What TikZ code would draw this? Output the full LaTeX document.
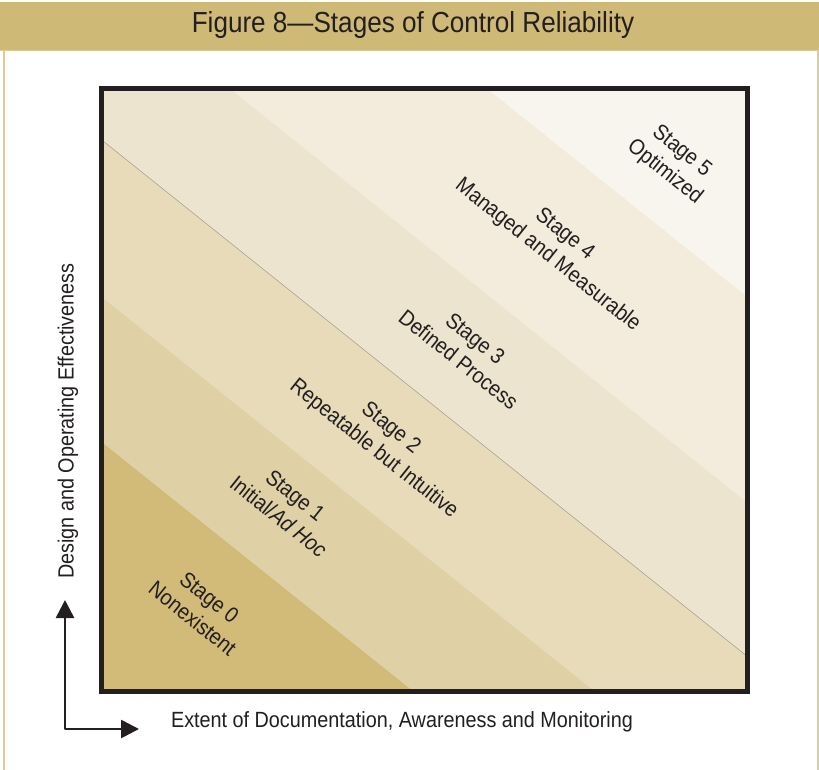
\documentclass[tikz,border=0pt]{standalone}
\usepackage{fontspec}
\setmainfont[FakeStretch=0.9]{Liberation Sans}
\usetikzlibrary{arrows.meta}
\definecolor{gold}{RGB}{207,185,119}
\definecolor{goldline}{RGB}{222,204,152}
\definecolor{sz}{RGB}{210,186,120}
\definecolor{so}{RGB}{224,208,165}
\definecolor{stw}{RGB}{232,219,186}
\definecolor{sth}{RGB}{237,228,207}
\definecolor{sf}{RGB}{243,235,220}
\definecolor{sfi}{RGB}{248,244,238}
\definecolor{ink}{RGB}{35,31,32}
\definecolor{thinline}{RGB}{150,144,128}
\tikzset{
  stagelabel/.style={align=center, rotate=-38.66, inner sep=0pt, text=ink,
    font=\fontsize{22}{27}\selectfont},
  axislabel/.style={inner sep=0pt, text=ink, font=\fontsize{22}{26}\selectfont},
  axisarrow/.style={line width=2.7pt, draw=ink, line join=round,
    {Triangle[length=18pt,width=18pt]}-{Triangle[length=18pt,width=18pt]}}
}
\begin{document}
\begin{tikzpicture}[x=1pt,y=-1pt]
\useasboundingbox (0,0) rectangle (819,769);
\fill[white] (0,0) rectangle (819,769);
% outer frame and header
\draw[goldline, line width=1.2pt] (4,50) -- (4,772) (818,50) -- (818,772);
\fill[gold] (0,2) rectangle (819,50);
\draw[goldline, line width=1pt] (0,50) -- (819,50);
\node[inner sep=0pt, text=ink, font=\fontsize{29}{32}\selectfont] (title) at (413,25) {Figure 8—Stages of Control Reliability};
% bands
\begin{scope}
\clip (101.5,88) rectangle (747,691.5);
\fill[sz] (90,80) rectangle (760,700);
\fill[so]  (0,360.6) -- (1000,1160.6) -- (1000,-1000) -- (0,-1000) -- cycle;
\fill[stw] (0,215.6) -- (1000,1015.6) -- (1000,-1000) -- (0,-1000) -- cycle;
\fill[sth] (0,58.6) -- (1000,858.6) -- (1000,-1000) -- (0,-1000) -- cycle;
\fill[sf]  (0,-95.4) -- (1000,704.6) -- (1000,-1000) -- (0,-1000) -- cycle;
\fill[sfi] (0,-301) -- (1000,499) -- (1000,-1000) -- (0,-1000) -- cycle;
\draw[thinline, line width=0.45pt] (0,58.6) -- (1000,858.6);
\end{scope}
\draw[ink, line width=5pt] (101.5,88) rectangle (747,691.5);
% stage labels
\node[stagelabel] (s0) at (201,608) {Stage 0\\Nonexistent};
\node[stagelabel] (s1) at (287,506) {Stage 1\\Initial/\textit{Ad Hoc}};
\node[stagelabel] (s2) at (382,439) {Stage 2\\Repeatable but Intuitive};
\node[stagelabel] (s3) at (467,349) {Stage 3\\Defined Process};
\node[stagelabel] (s4) at (556,245) {Stage 4\\Managed and Measurable};
\node[stagelabel] (s5) at (673,162) {Stage 5\\Optimized};
% axes
\coordinate (ytip) at (65,600);
\coordinate (xtip) at (139,729);
\draw[axisarrow] (ytip) |- (xtip);
\node[axislabel, rotate=90] (ylab) at (68,421) {Design and Operating Effectiveness};
\node[axislabel] (xlab) at (402,722) {Extent of Documentation, Awareness and Monitoring};
\end{tikzpicture}
\end{document}
